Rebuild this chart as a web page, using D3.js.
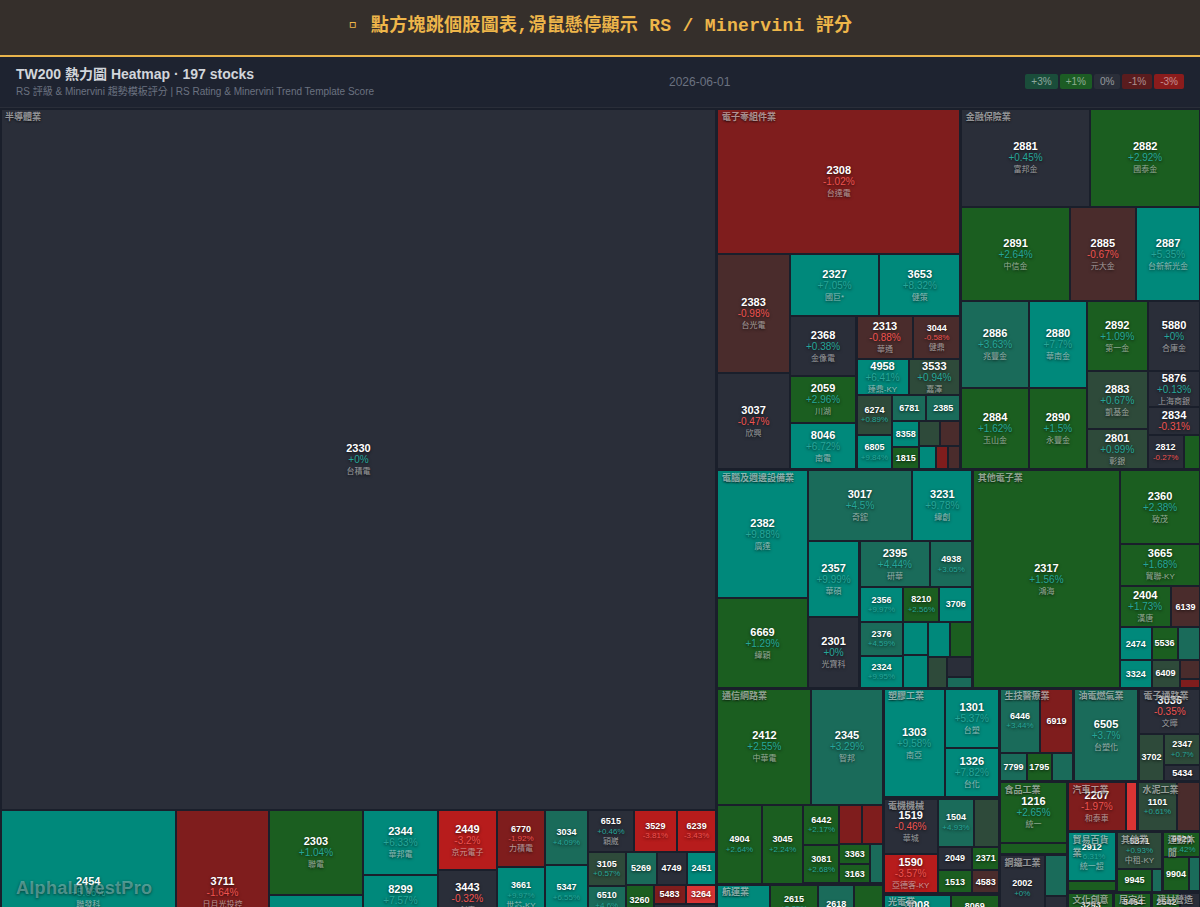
<!DOCTYPE html>
<html lang="zh-Hant">
<head>
<meta charset="utf-8">
<title>TW200 熱力圖 Heatmap</title>
<script src="https://cdn.jsdelivr.net/npm/d3@7/dist/d3.min.js"></script>
<style>
  html, body { margin: 0; padding: 0; width: 1200px; height: 907px; overflow: hidden; background: #1a1f2b;
    font-family: "Liberation Sans", "Noto Sans CJK TC", sans-serif; }
  #banner { position: absolute; left: 0; top: 0; width: 1200px; height: 55px; background: #352f2b; border-bottom: 2px solid #e9b44c;
    color: #eeb64a; font: bold 18px/53px "Liberation Mono", "Noto Sans CJK TC", monospace; text-align: center; letter-spacing: .3px; text-indent: -2px; }
  #banner .mark { font-size: 23px; line-height: 1; vertical-align: -1px; }
  #head { position: absolute; left: 0; top: 57px; width: 1200px; height: 50px; background: #1e2330; border-bottom: 1px solid #2a2e39; }
  #title { position: absolute; left: 16px; top: 8px; font-size: 14px; font-weight: bold; line-height: 18px; color: #d1d5db; white-space: nowrap; }
  #subtitle { position: absolute; left: 16px; top: 28px; font-size: 10px; line-height: 13px; color: #6b7280; white-space: nowrap; }
  #date { position: absolute; left: 669px; top: 17px; font-size: 12px; line-height: 16px; color: #6b7280; white-space: nowrap; }
  #legend { position: absolute; right: 16px; top: 17px; display: flex; gap: 2px; }
  #legend span { display: block; padding: 0 6px; height: 15px; line-height: 15px; font-size: 10px; border-radius: 2px; color: rgba(255,255,255,.5); }
  #map { position: absolute; left: 0.5px; top: 109px; width: 1200px; }
  .tile { position: absolute; overflow: hidden; display: flex; flex-direction: column; align-items: center; justify-content: center;
    text-align: center; white-space: nowrap; text-shadow: 0 1px 3px rgba(0,0,0,.7); }
  .tile .code { color: #fff; font-weight: bold; }
  .tile .name { color: rgba(255,255,255,.55); }
  .big .code { font-size: 11px; line-height: 12px; }
  .big .pct { font-size: 10px; line-height: 12px; }
  .big .name { font-size: 8px; line-height: 11px; }
  .small .code { font-size: 9px; line-height: 10.5px; }
  .small .pct { font-size: 8px; line-height: 10px; }
  .small .name { font-size: 8px; line-height: 9.5px; }
  .sector { position: absolute; box-sizing: border-box; padding: 1px 4px 0 4px; font-size: 9px; line-height: 12.7px; font-weight: bold;
    color: rgba(255,255,255,.55); text-shadow: 0 1px 2px rgba(0,0,0,.7); pointer-events: none; }
  #brand { position: absolute; left: 16px; top: 877px; font-size: 18px; line-height: 22px; font-weight: bold; letter-spacing: .3px;
    color: rgba(255,255,255,.32); text-shadow: 0 1px 3px rgba(0,0,0,.5); white-space: nowrap; }
</style>
</head>
<body>
<div id="banner"><span class="mark">▫</span> 點方塊跳個股圖表,滑鼠懸停顯示 RS / Minervini 評分</div>
<div id="head">
  <div id="title">TW200 熱力圖 Heatmap · 197 stocks</div>
  <div id="subtitle">RS 評級 &amp; Minervini 趨勢模板評分 | RS Rating &amp; Minervini Trend Template Score</div>
  <div id="date">2026-06-01</div>
  <div id="legend"></div>
</div>
<div id="map"></div>
<div id="brand">AlphaInvestPro</div>
<script>
// Each stock row: [code, name, daily change %, market weight].
// Rows keep the order in which the treemap places them.
const semiconductor = [
  ['2330','台積電',0,502632],['2454','聯發科',5.66,28958],['3711','日月光投控',-1.64,15345],
  ['2303','聯電',1.04,7990],['','',6,7520],['2344','華邦電',6.33,4875],['8299','群聯',7.57,3750],['','',2,3750],
  ['2449','京元電子',-3.2,3540],['3443','創意',-0.32,3304],['','',1.5,2891],
  ['6770','力積電',-1.92,2736],['3661','世芯-KY',9.97,2688],['','',1.5,2496],
  ['3034','聯詠',4.09,2365],['5347','世界',6.55,2365],['','',4,2365],
  ['6515','穎崴',0.46,1932],['3529','力旺',-3.81,1806],['6239','力成',-3.43,1659],
  ['3105','穩懋',0.57,1263],['6510','精測',4.6,1140],['','',1.5,1125],['','',-0.8,1112],
  ['5269','祥碩',3.6,1023],['4749','新應材',0.2,990],['2451','創見',6.2,983],
  ['3260','威剛',2.1,868],['','',1.5,840],['','',-0.8,812],
  ['5483','中美晶',-1.6,592],['3264','欣銓',-5.4,570],['','',0.2,4490]
];
const components = [
  ['2308','台達電',-1.02,35308],['2383','台光電',-0.98,8700],['3037','欣興',-0.47,6996],
  ['2327','國巨*',7.05,5670],['3653','健策',8.32,5103],
  ['2368','金像電',0.38,4020],['2059','川湖',2.96,3169],['8046','南電',6.72,3095],
  ['2313','華通',-0.88,2451],['3044','健鼎',-0.58,2021],['4958','臻鼎-KY',6.41,1879],['3533','嘉澤',0.94,1865],
  ['6274','台燿',0.89,1440],['6805','富世達',9.84,1242],['6781','AES-KY',4.2,884],['2385','群光',3.6,884],
  ['8358','金居',6.4,686],['1815','富喬',2.2,621],['','',0.8,525],['','',-0.7,500],
  ['','',5.5,400],['','',-1.5,282],['','',-0.8,282]
];
const finance = [
  ['2881','富邦金',0.45,12642],['2882','國泰金',2.92,10878],
  ['2891','中信金',2.64,10355],['2885','元大金',-0.67,6270],['2887','台新新光金',5.35,6175],
  ['2886','兆豐金',3.63,5916],['2884','玉山金',1.62,5542],['2880','華南金',7.7,5046],['2890','永豐金',1.5,4727],
  ['2892','第一金',1.09,4270],['5880','合庫金',0,3710],['2883','凱基金',0.67,3538],['2801','彰銀',0.99,2470],
  ['5876','上海商銀',0.13,1908],['2834','臺企銀',-0.31,1484],['2812','台中銀',-0.27,1242],['','',1.5,586]
];
const computers = [
  ['2382','廣達',9.88,11629],['6669','緯穎',1.29,8118],['3017','奇鋐',4.5,7476],['3231','緯創',9.78,4272],
  ['2357','華碩',9.99,3968],['2301','光寶科',0,3676],['2395','研華',4.44,3273],['4938','和碩',3.05,1936],
  ['2356','英業達',9.97,1549],['2376','技嘉',4.59,1496],['2324','仁寶',9.95,1395],['8210','勤誠',2.56,1249],['3706','神達',6.1,1145],
  ['','',6.5,838],['','',7.2,818],['','',5.8,777],['','',1.8,777],['','',0.8,587],['','',-0.2,505],['','',3.8,268]
];
const otherElectronics = [
  ['2317','鴻海',1.56,32075],['2360','致茂',2.38,5954],['3665','貿聯-KY',1.68,3467],['2404','漢唐',1.73,2111],['6139','亞翔',-0.8,1242],
  ['2474','可成',6,1050],['3324','雙鴻',5.5,886],['5536','聖暉*',2,840],['','',4,743],['6409','旭隼',0.8,790],['','',-0.8,410],['','',-1.5,183]
];
const telecom = [
  ['2412','中華電',2.55,11047],['2345','智邦',3.29,8358],['4904','遠傳',2.64,3511],['3045','台灣大',2.24,3314],
  ['6442','光聖',2.17,1465],['3081','聯亞',2.68,1375],['','',-1.5,890],['','',-1.5,794],
  ['3363','上詮',2,646],['3163','波若威',2,600],['','',4,503]
];
const shipping = [
  ['','',6,4804],['2615','萬海',2.35,2401],['','',2,2082],['2618','長榮航',3.5,1836],['','',2,1453],['','',1.5,1620],['','',1,992]
];
const plastics = [['1303','南亞',9.58,6753],['1301','台塑',5.37,3298],['1326','台化',7.82,2708]];
const electrical = [
  ['1519','華城',-0.46,3079],['1590','亞德客-KY',-3.57,2153],['1504','東元',4.93,1795],['','',0.8,1198],
  ['2049','上銀',-0.2,840],['1513','中興電',1.8,822],['2371','大同',1.5,641],['4583','台灣精銳',-0.8,627]
];
const optoelectronics = [['3008','大立光',6,3037],['','',1.5,2464],['8069','元太',2,2094],['','',1,1875]];
const biotech = [['6446','藥華藥',3.44,2653],['6919','康霈*',-1.5,2194],['7799','禾榮科',4,773],['1795','美時',2,708],['','',3.5,614]];
const oilGas = [['6505','台塑化',3.7,6097]];
const distribution = [['3036','文曄',-0.35,2835],['3702','大聯大',0.8,1222],['2347','聯強',0.7,1177],['5434','崇越',-0.2,610]];
const food = [['1216','統一',2.65,4196],['','',1.5,768]];
const steel = [['2002','中鋼',0,3058],['','',4,942],['','',-0.2,590]];
const rubber = [['','',1.5,3604]];
const autos = [['2207','和泰車',-1.97,2915],['','',-6,585]];
const cement = [['1101','台泥',0.61,1965],['','',-0.8,1200]];
const retail = [['2912','統一超',6.31,2370],['','',1.5,540]];
const otherBiz = [['5871','中租-KY',0.93,1755],['9945','潤泰新',2,820],['','',4,225]];
const sports = [['9921','巨大',2.42,935],['9904','寶成',2,920],['','',4,435]];
const culture = [['3293','鈊象',2,2084]];
const tourism = [['','',1.5,1782]];
const home = [['8464','億豐',2.1,1140]];
const textiles = [['','',1.5,2033]];
const construction = [['2542','興富發',2,584],['','',0.2,420]];
const glass = [['','',0.2,3087]];

const sectorNames = ['半導體業','電子零組件業','金融保險業','電腦及週邊設備業','其他電子業','通信網路業','航運業','塑膠工業','電機機械','光電業',
  '生技醫療業','油電燃氣業','電子通路業','食品工業','鋼鐵工業','橡膠工業','汽車工業','水泥工業','貿易百貨業','其他業','運動休閒',
  '文化創意','觀光餐旅','居家生活','紡織纖維','建材營造','玻璃陶瓷'];
const sectorStocks = [semiconductor,components,finance,computers,otherElectronics,telecom,shipping,plastics,electrical,optoelectronics,
  biotech,oilGas,distribution,food,steel,rubber,autos,cement,retail,otherBiz,sports,
  culture,tourism,home,textiles,construction,glass];

const legendLabels = ['+3%','+1%','0%','-1%','-3%'];
const legendColors = ['#1a4d3a','#1c5c24','#2a2e39','#5a1c1e','#8b1c1c'];

// Change-to-colour bands for the tiles.
const changeBreaks = [-5,-3,-1,-0.5,0.5,1,3,5];
const changeColors = ['#d93434','#b71c1c','#7f1d1d','#4a2c2c','#2a2e39','#2e4a3a','#1b5e20','#1a6b5a','#00897b'];
const tileColor = d3.scaleThreshold().domain(changeBreaks).range(changeColors);

const mapWidth = 1200, mapHeight = 866;

const root = d3.hierarchy({
  children: sectorNames.map((name, i) => ({
    name,
    children: sectorStocks[i].map(([code, label, change, weight]) => ({ code, label, change, weight }))
  }))
}).sum(d => d.weight || 0);

d3.treemap()
  .size([mapWidth, mapHeight])
  .tile(d3.treemapSquarify.ratio(1))
  .paddingInner(2)
  .paddingOuter(0.5)(root);

const map = d3.select('#map');
const fmtChange = v => (v >= 0 ? '+' : '') + v + '%';
const isBig = d => (d.x1 - d.x0) >= 47.5;

map.selectAll('.tile').data(root.leaves()).join('div')
  .attr('class', d => 'tile ' + (isBig(d) ? 'big' : 'small'))
  .style('left', d => d.x0 + 'px').style('top', d => d.y0 + 'px')
  .style('width', d => (d.x1 - d.x0) + 'px').style('height', d => (d.y1 - d.y0) + 'px')
  .style('background', d => tileColor(d.data.change))
  .each(function (d) {
    if (!d.data.code) return;
    const w = d.x1 - d.x0, h = d.y1 - d.y0, big = isBig(d);
    const tile = d3.select(this);
    tile.append('div').attr('class', 'code').text(d.data.code);
    if (big || (w >= 33.5 && h >= 21)) {
      tile.append('div').attr('class', 'pct')
        .style('color', d.data.change >= 0 ? '#26a69a' : '#ef5350')
        .text(fmtChange(d.data.change));
    }
    if ((big && h >= 33) || (w >= 43 && h >= 34)) {
      tile.append('div').attr('class', 'name').text(d.data.label);
    }
  });

map.selectAll('.sector').data(root.children).join('div')
  .attr('class', 'sector')
  .style('left', d => d.x0 + 'px').style('top', d => d.y0 + 'px')
  .style('width', d => (d.x1 - d.x0) + 'px')
  .text(d => d.data.name);

d3.select('#legend').selectAll('span').data(legendLabels).join('span')
  .style('background', (d, i) => legendColors[i])
  .text(d => d);
</script>
</body>
</html>
